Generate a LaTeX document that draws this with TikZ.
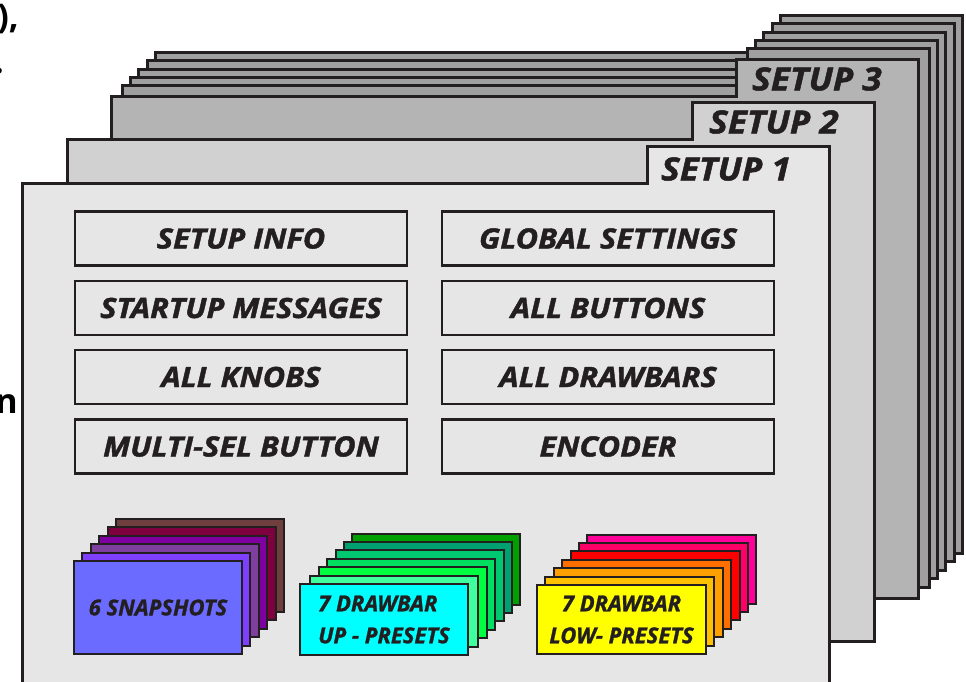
\documentclass[tikz,border=0pt]{standalone}
\usepackage{fontspec}
\newfontfamily\menufont{Open Sans}[FakeStretch=1.1,BoldItalicFeatures={FakeBold=1.5}]
\newfontfamily\cardfont{Open Sans}[BoldItalicFeatures={FakeBold=1.2}]
\newfontfamily\pagefont{Open Sans}
\definecolor{ink}{HTML}{231F20}
\definecolor{sheetA}{HTML}{E6E6E6}
\definecolor{sheetB}{HTML}{D1D1D1}
\definecolor{sheetC}{HTML}{B4B4B4}
\definecolor{sheetD}{HTML}{A0A0A0}
\definecolor{snap0}{HTML}{6B6BFF}
\definecolor{snap1}{HTML}{7F3FFF}
\definecolor{snap2}{HTML}{7F3F9F}
\definecolor{snap3}{HTML}{7F00A0}
\definecolor{snap4}{HTML}{7F003F}
\definecolor{snap5}{HTML}{6F3F3F}
\definecolor{up0}{HTML}{00FFFF}
\definecolor{up1}{HTML}{40FF9F}
\definecolor{up2}{HTML}{00FF40}
\definecolor{up3}{HTML}{00E060}
\definecolor{up4}{HTML}{00C870}
\definecolor{up5}{HTML}{00A070}
\definecolor{up6}{HTML}{00A000}
\definecolor{low0}{HTML}{FFFF00}
\definecolor{low1}{HTML}{FFC000}
\definecolor{low2}{HTML}{FF9F00}
\definecolor{low3}{HTML}{FF6F00}
\definecolor{low4}{HTML}{FF0000}
\definecolor{low5}{HTML}{FF0066}
\definecolor{low6}{HTML}{FF0099}

\begin{document}
\begin{tikzpicture}[x=1pt,y=-1pt,
    sheet/.style={draw=ink,line width=3pt},
    menubox/.style={draw=ink,line width=2.4pt,fill=sheetA,minimum width=332pt,minimum height=54pt,inner sep=0pt,
        text=ink,font=\menufont\bfseries\itshape\fontsize{28}{32}\selectfont},
    setuplabel/.style={text=ink,font=\menufont\bfseries\itshape\fontsize{32}{38}\selectfont},
    card/.style={draw=ink,line width=2pt},
    cardtext/.style={card,inner sep=0pt,text=ink,font=\cardfont\bfseries\itshape\fontsize{22}{32}\selectfont},
    stray/.style={inner sep=0pt,anchor=base east,font=\pagefont\bfseries\fontsize{34}{40}\selectfont}]

                \useasboundingbox[fill=white] (0,0) rectangle (966,682);
                \foreach \sx/\sy/\shade in {133.6/-130.6/sheetD,125.2/-122.2/sheetD,116.8/-113.8/sheetD,108.4/-105.4/sheetD,100/-97/sheetD,89/-86/sheetC,45/-43/sheetB,0/0/sheetA}
                    \filldraw[sheet,fill=\shade,shift={(\sx,\sy)}] (22,183) -- (647,183) -- (647,146) -- (829,146) -- (829,684) -- (22,684) -- cycle;
                \node[setuplabel] (setup3) at (817,79) {SETUP 3};
                \node[setuplabel] (setup2) at (774,122) {SETUP 2};
                \node[setuplabel] (setup1) at (726,169) {SETUP 1};

                \node[menubox] (info)     at (241,238.5) {SETUP INFO};
                \node[menubox] (startup)  at (241,308)   {STARTUP MESSAGES};
                \node[menubox] (knobs)    at (241,377)   {ALL KNOBS};
                \node[menubox] (multisel) at (241,446.5) {MULTI-SEL BUTTON};
                \node[menubox] (global)   at (608,238.5) {GLOBAL SETTINGS};
                \node[menubox] (buttons)  at (608,308)   {ALL BUTTONS};
                \node[menubox] (drawbars) at (608,377)   {ALL DRAWBARS};
                \node[menubox] (encoder)  at (608,446.5) {ENCODER};

                \foreach \k in {5,4,...,1}
                    \filldraw[card,fill=snap\k,shift={({8.4*\k},{-8.4*\k})}] (74,561) rectangle (242,654);
                \node[cardtext,fill=snap0,minimum width=168pt,minimum height=93pt] (snapshots) at (158,607.5) {6 SNAPSHOTS};

                \foreach \k in {6,5,...,1}
                    \filldraw[card,fill=up\k,shift={({8.4*\k},{-8.4*\k})}] (302,584) rectangle (470,655);
                \node[cardtext,fill=up0,minimum width=168pt,minimum height=71pt,align=left] (uppresets) at (384,619.5) {7 DRAWBAR\\UP - PRESETS};

                \foreach \k in {6,5,...,1}
                    \filldraw[card,fill=low\k,shift={({8.4*\k},{-8.4*\k})}] (537,585) rectangle (706,654);
                \node[cardtext,fill=low0,minimum width=169pt,minimum height=69pt,align=center] (lowpresets) at (621.5,619.5) {7 DRAWBAR\\LOW- PRESETS};

                \node[stray] (strayA) at (19,29) {),};
                \node[stray] (strayB) at (4,74) {.};
                \node[stray] (strayC) at (18,413) {n};
            \end{tikzpicture}
\end{document}
